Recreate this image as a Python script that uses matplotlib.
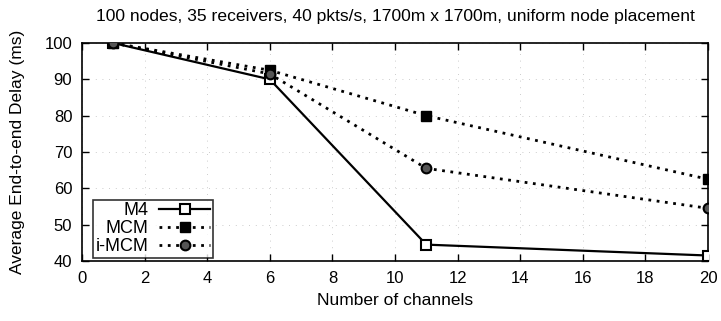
import matplotlib
matplotlib.use("Agg")
import matplotlib.pyplot as plt

plt.rcParams['font.family'] = ['Liberation Sans', 'DejaVu Sans']

channels = [1, 6, 11, 20]
m4 = [100, 90, 44.5, 41.5]
mcm = [100, 92.5, 80, 62.5]
imcm = [100, 91.5, 65.5, 54.5]
xticks = list(range(0, 21, 2))
yticks = list(range(40, 101, 10))

fig = plt.figure(figsize=(7.21, 3.21), dpi=100)
ax = fig.add_axes([0.1137, 0.187, 0.8683, 0.679])

ax.plot(channels, m4, color='black', lw=1.6, ls='-', marker='s', ms=7,
        mfc='white', mec='black', mew=1.5, label='M4', zorder=3)
ax.plot(channels, mcm, color='black', lw=2.0, ls=(0, (1, 2)), marker='s', ms=7,
        mfc='black', mec='black', label='MCM', zorder=3)
ax.plot(channels, imcm, color='black', lw=2.0, ls=(0, (1, 2)), marker='o', ms=7,
        mfc='#555555', mec='black', mew=1.5, label='i-MCM', zorder=3)

ax.set_xlim(0, 20)
ax.set_ylim(40, 100)
ax.set_xticks(xticks)
ax.set_yticks(yticks)
ax.tick_params(direction='in', top=True, right=True, labelsize=12, length=5, width=1)
ax.tick_params(axis='x', pad=7)
ax.tick_params(axis='y', pad=7)
ax.grid(True, color='#bbbbbb', ls=(0, (1, 7)), lw=0.6)
for s in ax.spines.values():
    s.set_linewidth(1.2)

ax.set_xlabel('Number of channels', fontsize=12.5, labelpad=5)
ax.set_ylabel('Average End-to-end Delay (ms)', fontsize=12.5, labelpad=14)
ax.set_title('100 nodes, 35 receivers, 40 pkts/s, 1700m x 1700m, uniform node placement',
             fontsize=12.6, pad=16)

leg = ax.legend(loc='lower left', bbox_to_anchor=(0.0176, 0.014), markerfirst=False,
                fontsize=13, frameon=True, fancybox=False, edgecolor='black',
                handlelength=2.8, borderpad=0.15, labelspacing=0.05, handletextpad=0.6,
                borderaxespad=0.0)
leg.get_frame().set_linewidth(1.2)
leg._legend_box.align = 'right'
for t in leg.get_texts():
    t.set_ha('right')

fig.savefig('out.png', dpi=100)
